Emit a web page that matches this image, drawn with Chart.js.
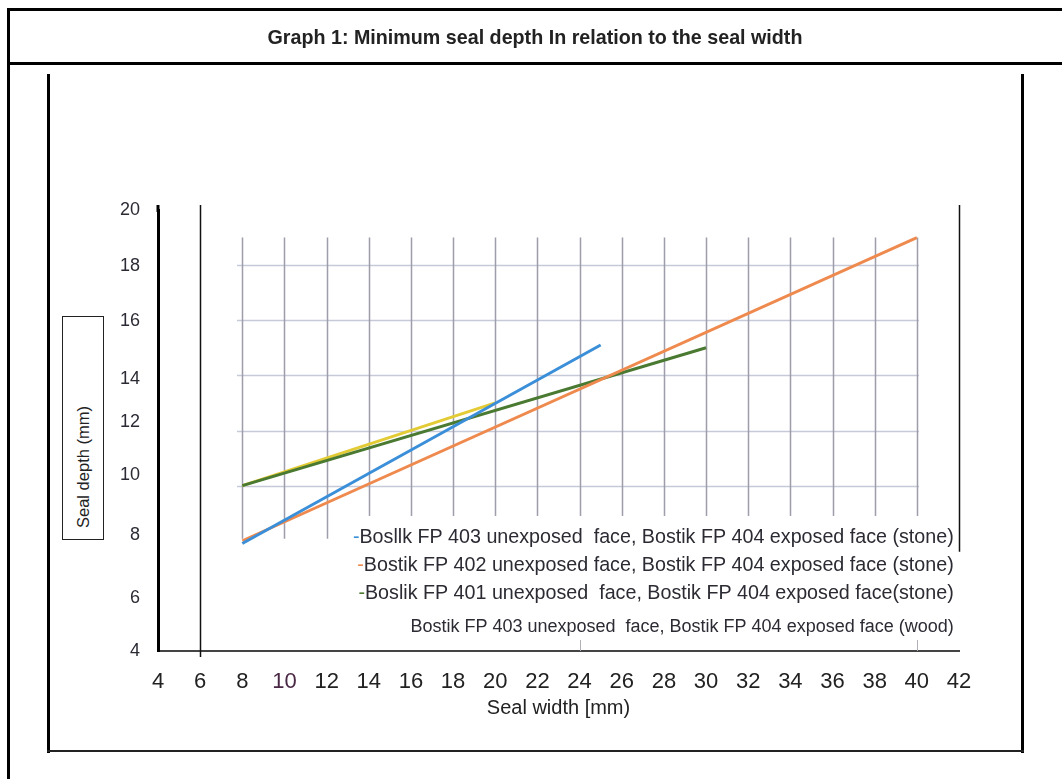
<!DOCTYPE html>
<html>
<head>
<meta charset="utf-8">
<script src="https://cdn.jsdelivr.net/npm/chart.js@4.4.0/dist/chart.umd.min.js"></script>
<style>
  html, body { margin: 0; padding: 0; background: #fff; }
  #wrap { position: relative; width: 1062px; height: 779px; overflow: hidden; background: #fff; }
  #c { position: absolute; left: 0; top: 0; }
  .ln { position: absolute; background: #000; }
  #title { position: absolute; left: 8px; right: 0; top: 26px; text-align: center;
           font: bold 19.7px "Liberation Sans", Arial, sans-serif; color: #222; white-space: nowrap; }
  #ybox { position: absolute; left: 62px; top: 316px; width: 42px; height: 224px;
          border: 1px solid #222; box-sizing: border-box; background: #fff; }
  #ytitle { position: absolute; left: 83px; top: 467px; transform: translate(-50%, -50%) rotate(-90deg);
            font: 16.5px "Liberation Sans", Arial, sans-serif; color: #222; white-space: nowrap; }
</style>
</head>
<body>
<div id="wrap">
  <canvas id="c" width="1062" height="779"></canvas>
  <!-- outer frame -->
  <div class="ln" style="left:7px;top:8px;width:1055px;height:3px;"></div>
  <div class="ln" style="left:7px;top:8px;width:3px;height:771px;"></div>
  <div class="ln" style="left:7px;top:62px;width:1055px;height:3px;"></div>
  <!-- inner frame -->
  <div class="ln" style="left:47px;top:74px;width:3px;height:679px;"></div>
  <div class="ln" style="left:1021px;top:74px;width:3px;height:679px;"></div>
  <div class="ln" style="left:47px;top:750px;width:977px;height:2px;background:#222;"></div>
  <div id="title">Graph 1: Minimum seal depth In relation to the seal width</div>
  <div id="ybox"></div>
  <div id="ytitle">Seal depth (mm)</div>
</div>
<script>
// ---------- data ----------
const xTickValues = [4, 6, 8, 10, 12, 14, 16, 18, 20, 22, 24, 26, 28, 30, 32, 34, 36, 38, 40, 42];
const yTickLabels = ['4', '6', '8', '10', '12', '14', '16', '18', '20'];
// label positions as printed (slightly off the grid in the scan)
const yTickPositions = [4, 5.93, 8.22, 10.4, 12.29, 13.85, 15.96, 17.96, 20];

const gridXValues = [8, 10, 12, 14, 16, 18, 20, 22, 24, 26, 28, 30, 32, 34, 36, 38, 40];
const gridYValues = [10, 12, 14, 16, 18];
const gridYTop = 19;
const gridYBottom = 8;

const seriesNames = [
  'Bosllk FP 403 unexposed  face, Bostik FP 404 exposed face (stone)',
  'Bostik FP 402 unexposed face, Bostik FP 404 exposed face (stone)',
  'Boslik FP 401 unexposed  face, Bostik FP 404 exposed face(stone)',
  'Bostik FP 403 unexposed  face, Bostik FP 404 exposed face (wood)'
];
const fp403StoneX = [8, 25];
const fp403StoneY = [7.9, 15.1];
const fp402StoneX = [8, 40];
const fp402StoneY = [8, 19];
const fp401StoneX = [8, 30];
const fp401StoneY = [10, 15];
const fp403WoodX = [8, 20];
const fp403WoodY = [10, 13];

const seriesColors = ['#3b8fd8', '#ef8a4f', '#4a7a31', '#e3cb35'];

function pts(xs, ys) { return xs.map((x, i) => ({ x: x, y: ys[i] })); }

const FONT = '"Liberation Sans", Arial, sans-serif';

// ---------- plugin: grid, frame lines, legend ----------
const decor = {
  id: 'decor',
  beforeDatasetsDraw(chart) {
    const { ctx, scales: { x, y } } = chart;
    ctx.save();
    // horizontal grid
    ctx.strokeStyle = '#c6c9d8';
    ctx.lineWidth = 1.5;
    gridYValues.forEach(v => {
      const py = Math.round(y.getPixelForValue(v)) + 0.5;
      ctx.beginPath();
      ctx.moveTo(x.getPixelForValue(7.75), py);
      ctx.lineTo(x.getPixelForValue(40.1), py);
      ctx.stroke();
    });
    // vertical grid
    ctx.strokeStyle = '#9d9dab';
    ctx.lineWidth = 1.5;
    gridXValues.forEach(v => {
      const px = Math.round(x.getPixelForValue(v)) + 0.5;
      ctx.beginPath();
      ctx.moveTo(px, y.getPixelForValue(gridYTop));
      ctx.lineTo(px, y.getPixelForValue(gridYBottom) - 2);
      ctx.stroke();
    });
    // outer plot frame lines at x = 6 and x = 42
    ctx.strokeStyle = '#111';
    ctx.lineWidth = 1.5;
    let px = Math.round(x.getPixelForValue(6)) + 0.5;
    ctx.beginPath();
    ctx.moveTo(px, y.top - 5);
    ctx.lineTo(px, y.bottom + 6);
    ctx.stroke();
    px = Math.round(x.getPixelForValue(42)) + 0.5;
    ctx.beginPath();
    ctx.moveTo(px, y.top - 5);
    ctx.lineTo(px, y.getPixelForValue(7.6));
    ctx.stroke();
    // y axis extends slightly above the top
    ctx.strokeStyle = '#000';
    ctx.lineWidth = 3;
    px = x.getPixelForValue(4);
    ctx.beginPath();
    ctx.moveTo(px, y.top - 5);
    ctx.lineTo(px, y.top + 2);
    ctx.stroke();
    ctx.restore();
  },
  afterDatasetsDraw(chart) {
    const { ctx, scales: { x, y } } = chart;
    ctx.save();
    // legend background
    ctx.fillStyle = '#fff';
    ctx.fillRect(x.getPixelForValue(12.3), y.getPixelForValue(8.9), x.getPixelForValue(41.8) - x.getPixelForValue(12.3), y.getPixelForValue(4.5) - y.getPixelForValue(8.9));
    // small x tick marks
    ctx.strokeStyle = '#b0b0b8';
    ctx.lineWidth = 1;
    [24, 40].forEach(v => {
      const px = Math.round(x.getPixelForValue(v)) + 0.5;
      ctx.beginPath();
      ctx.moveTo(px, y.bottom - 11);
      ctx.lineTo(px, y.bottom);
      ctx.stroke();
    });
    // legend text
    const right = x.getPixelForValue(41.75);
    const rows = [538, 566, 594, 627];
    chart.data.datasets.forEach((ds, i) => {
      const size = i === 3 ? 18 : 19.7;
      ctx.font = size + 'px ' + FONT;
      ctx.textAlign = 'right';
      ctx.textBaseline = 'middle';
      ctx.fillStyle = '#2b2b33';
      ctx.fillText(ds.label, right, rows[i]);
      if (i < 3) {
        const w = ctx.measureText(ds.label).width;
        ctx.fillStyle = ds.borderColor;
        ctx.fillText('-', right - w, rows[i]);
      }
    });
    ctx.restore();
  }
};

const datasets = [
  { label: seriesNames[0], data: pts(fp403StoneX, fp403StoneY), borderColor: seriesColors[0] },
  { label: seriesNames[1], data: pts(fp402StoneX, fp402StoneY), borderColor: seriesColors[1] },
  { label: seriesNames[2], data: pts(fp401StoneX, fp401StoneY), borderColor: seriesColors[2] },
  { label: seriesNames[3], data: pts(fp403WoodX, fp403WoodY), borderColor: seriesColors[3] }
].map(d => Object.assign(d, { borderWidth: 3, pointRadius: 0, tension: 0, fill: false, showLine: true }));

new Chart(document.getElementById('c'), {
  type: 'scatter',
  data: { datasets: datasets },
  options: {
    responsive: false,
    animation: false,
    events: [],
    layout: { padding: { left: 48, right: 103, top: 210, bottom: 59 } },
    plugins: { legend: { display: false }, tooltip: { enabled: false }, title: { display: false } },
    scales: {
      x: {
        type: 'linear', min: 4, max: 42,
        afterBuildTicks: s => { s.ticks = xTickValues.map(v => ({ value: v })); },
        afterFit: s => { s.height = 69; },
        grid: { display: false, drawTicks: false },
        border: { display: true, color: '#444', width: 2 },
        ticks: {
          autoSkip: false, maxRotation: 0, padding: 18,
          font: { family: FONT, size: 22 },
          color: ctx => (ctx.tick && ctx.tick.value === 10) ? '#4a2745' : '#222',
          callback: v => String(v)
        },
        title: { display: true, text: 'Seal width [mm)', font: { family: FONT, size: 20 }, color: '#222', padding: { top: 0, bottom: 0 } }
      },
      y: {
        type: 'linear', min: 4, max: 20,
        afterBuildTicks: s => { s.ticks = yTickPositions.map(v => ({ value: v })); },
        afterFit: s => { s.width = 110; },
        grid: { display: false, drawTicks: false },
        border: { display: true, color: '#000', width: 3 },
        ticks: {
          autoSkip: false, padding: 18,
          font: { family: FONT, size: 18 },
          color: '#2b2b35',
          callback: (v, i) => yTickLabels[i]
        }
      }
    }
  },
  plugins: [decor]
});
</script>
</body>
</html>
